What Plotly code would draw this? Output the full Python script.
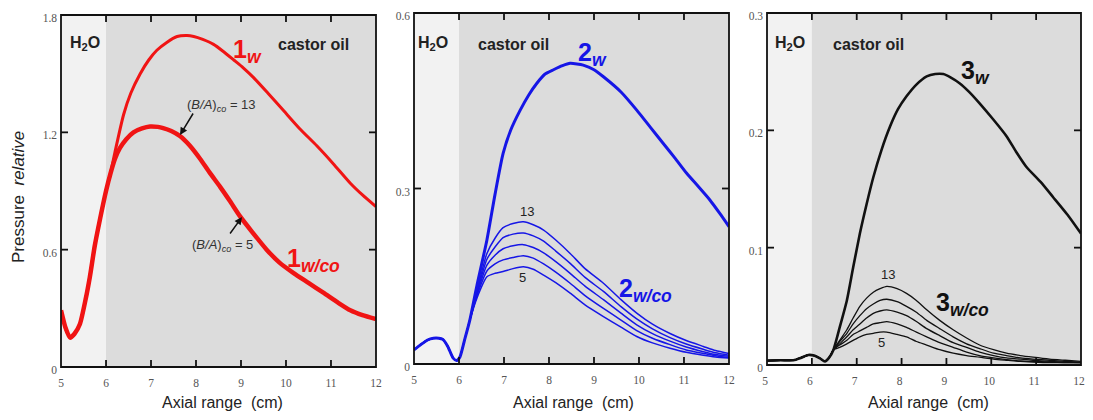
import plotly.graph_objects as go

# ---------------- data ----------------
# Panel 1 (fundamental, red)
x1_w = [5.0, 5.1, 5.2, 5.3, 5.42, 5.55, 5.64, 5.75, 5.87, 6.0, 6.1, 6.2, 6.39, 6.55, 6.76, 6.95,
        7.13, 7.35, 7.58, 7.8, 7.95, 8.15, 8.39, 8.6, 8.84, 9.05, 9.28, 9.6, 9.95, 10.3, 10.69,
        11.05, 11.43, 11.7, 12.0]
y1_w = [0.29, 0.2, 0.15, 0.17, 0.22, 0.35, 0.46, 0.62, 0.76, 0.9, 0.99, 1.1, 1.29, 1.4, 1.5, 1.57,
        1.62, 1.66, 1.69, 1.695, 1.69, 1.675, 1.65, 1.615, 1.57, 1.53, 1.48, 1.4, 1.31, 1.22, 1.13,
        1.04, 0.94, 0.88, 0.82]
x1_co = [5.0, 5.1, 5.2, 5.3, 5.42, 5.55, 5.64, 5.75, 5.87, 6.0, 6.1, 6.2, 6.31, 6.45, 6.61, 6.8,
         6.98, 7.15, 7.27, 7.45, 7.65, 7.85, 8.09, 8.3, 8.54, 8.75, 8.98, 9.25, 9.57, 9.85, 10.17,
         10.5, 10.83, 11.15, 11.43, 11.7, 12.0]
y1_co = [0.29, 0.2, 0.15, 0.17, 0.22, 0.35, 0.46, 0.62, 0.76, 0.9, 0.99, 1.065, 1.12, 1.165, 1.2, 1.22,
         1.23, 1.228, 1.222, 1.207, 1.18, 1.135, 1.065, 0.995, 0.92, 0.85, 0.77, 0.69, 0.6, 0.535, 0.48,
         0.43, 0.38, 0.33, 0.29, 0.265, 0.245]

# Panel 2 (second harmonic, blue)
x2_w = [5.0, 5.15, 5.3, 5.43, 5.55, 5.64, 5.75, 5.87, 5.95, 6.02, 6.12, 6.24, 6.4, 6.62, 6.8, 6.98,
        7.15, 7.36, 7.55, 7.73, 7.9, 8.1, 8.3, 8.47, 8.62, 8.76, 9.0, 9.21, 9.6, 9.95, 10.25,
        10.54, 10.8, 11.06, 11.3, 11.58, 11.8, 12.0]
y2_w = [0.024, 0.033, 0.041, 0.044, 0.044, 0.042, 0.03, 0.01, 0.006, 0.012, 0.04, 0.075, 0.135, 0.212,
        0.29, 0.36, 0.4, 0.434, 0.46, 0.48, 0.495, 0.503, 0.51, 0.514, 0.513, 0.511, 0.503, 0.491,
        0.465, 0.434, 0.405, 0.377, 0.352, 0.326, 0.305, 0.28, 0.257, 0.235]
x2_co = [5.0, 5.15, 5.3, 5.43, 5.55, 5.64, 5.75, 5.87, 5.95, 6.02, 6.12, 6.24, 6.4, 6.62, 6.8, 6.98,
         7.2, 7.43, 7.65, 7.88, 8.15, 8.47, 8.8, 9.21, 9.6, 9.95, 10.3, 10.69, 11.05, 11.43, 11.7, 12.0]
co_start2 = [0.024, 0.033, 0.041, 0.044, 0.044, 0.042, 0.03, 0.01, 0.006, 0.012, 0.04, 0.075]
y2_co13 = co_start2 + [0.125, 0.189, 0.215, 0.233, 0.24, 0.243, 0.238, 0.229, 0.212, 0.189, 0.163,
                       0.138, 0.11, 0.087, 0.068, 0.052, 0.04, 0.03, 0.023, 0.018]
y2_co11 = co_start2 + [0.122, 0.179, 0.2, 0.216, 0.222, 0.224, 0.219, 0.21, 0.193, 0.172, 0.148,
                       0.124, 0.098, 0.077, 0.06, 0.045, 0.034, 0.025, 0.019, 0.015]
y2_co9 = co_start2 + [0.12, 0.169, 0.186, 0.197, 0.202, 0.204, 0.199, 0.19, 0.175, 0.155, 0.133,
                      0.11, 0.087, 0.067, 0.052, 0.039, 0.029, 0.021, 0.016, 0.013]
y2_co7 = co_start2 + [0.117, 0.159, 0.171, 0.178, 0.182, 0.185, 0.181, 0.171, 0.157, 0.138, 0.117,
                      0.095, 0.075, 0.057, 0.044, 0.033, 0.024, 0.018, 0.014, 0.011]
y2_co5 = co_start2 + [0.113, 0.149, 0.155, 0.158, 0.163, 0.166, 0.162, 0.152, 0.139, 0.121, 0.101,
                      0.081, 0.063, 0.047, 0.036, 0.027, 0.02, 0.015, 0.012, 0.01]

# Panel 3 (third harmonic, black)
x3_w = [5.0, 5.3, 5.59, 5.75, 5.92, 6.05, 6.18, 6.29, 6.38, 6.48, 6.62, 6.78, 6.92, 7.07, 7.22, 7.37,
        7.55, 7.74, 7.92, 8.11, 8.33, 8.56, 8.75, 8.93, 9.1, 9.3, 9.5, 9.74, 10.05, 10.34, 10.55,
        10.78, 11.1, 11.38, 11.7, 12.0]
y3_w = [0.0037, 0.004, 0.004, 0.006, 0.0085, 0.008, 0.0057, 0.003, 0.006, 0.0128, 0.032, 0.055, 0.083,
        0.112, 0.137, 0.16, 0.183, 0.203, 0.218, 0.229, 0.239, 0.246, 0.248, 0.248, 0.245, 0.24,
        0.233, 0.223, 0.209, 0.195, 0.182, 0.169, 0.156, 0.143, 0.128, 0.112]
x3_co = [5.0, 5.3, 5.59, 5.75, 5.92, 6.05, 6.18, 6.29, 6.38, 6.48, 6.62, 6.78, 6.92, 7.07, 7.22, 7.37,
         7.52, 7.67, 7.9, 8.11, 8.33, 8.56, 8.85, 9.15, 9.45, 9.74, 10.05, 10.34, 10.65, 10.93,
         11.3, 11.65, 12.0]
co_start3 = [0.0037, 0.004, 0.004, 0.006, 0.0085, 0.008, 0.0057, 0.003, 0.006, 0.0128]
y3_co13 = co_start3 + [0.021, 0.03, 0.04, 0.05, 0.057, 0.062, 0.065, 0.067, 0.065, 0.061, 0.055, 0.047,
                       0.038, 0.03, 0.023, 0.017, 0.013, 0.01, 0.008, 0.0066, 0.005, 0.004, 0.003]
y3_co11 = co_start3 + [0.02, 0.027, 0.035, 0.042, 0.048, 0.052, 0.055, 0.056, 0.054, 0.05, 0.045, 0.038,
                       0.031, 0.024, 0.018, 0.014, 0.01, 0.008, 0.006, 0.005, 0.004, 0.003, 0.0025]
y3_co9 = co_start3 + [0.018, 0.024, 0.03, 0.035, 0.04, 0.044, 0.046, 0.047, 0.045, 0.042, 0.037, 0.031,
                      0.025, 0.019, 0.015, 0.011, 0.008, 0.006, 0.005, 0.004, 0.003, 0.0025, 0.002]
y3_co7 = co_start3 + [0.017, 0.021, 0.026, 0.029, 0.032, 0.035, 0.036, 0.037, 0.035, 0.032, 0.028, 0.024,
                      0.019, 0.015, 0.011, 0.008, 0.006, 0.0045, 0.0035, 0.003, 0.0025, 0.002, 0.002]
y3_co5 = co_start3 + [0.015, 0.018, 0.021, 0.024, 0.026, 0.027, 0.028, 0.028, 0.026, 0.024, 0.02, 0.017,
                      0.013, 0.01, 0.008, 0.0066, 0.005, 0.004, 0.003, 0.0025, 0.002, 0.002, 0.002]

x_ticks = [5, 6, 7, 8, 9, 10, 11, 12]
y1_ticks = [0, 0.6, 1.2, 1.8]
y1_ticklabels = ["0", "0.6", "1.2", "1.8"]
y2_ticks = [0, 0.3, 0.6]
y2_ticklabels = ["0", "0.3", "0.6"]
y3_ticks = [0, 0.1, 0.2, 0.3]
y3_ticklabels = ["0", "0.1", "0.2", "0.3"]

# ---------------- figure ----------------
# page body has an 8px margin, so the figure is 16px smaller than the window
OFF = 8
W, H = 1093 - 2 * OFF, 420 - 2 * OFF
RED = "#f01414"
BLUE = "#1616e6"
BLACK = "#111111"


def px(x):
    return (x - OFF) / W


def py(y):
    return 1 - (y - OFF) / H


fig = go.Figure()


def add(x, y, color, width, n):
    fig.add_trace(go.Scatter(x=x, y=y, mode="lines",
                             line=dict(color=color, width=width, shape="spline", smoothing=0.6),
                             xaxis="x" + n, yaxis="y" + n, showlegend=False, hoverinfo="skip"))


add(x1_co, y1_co, RED, 4.5, "")
add(x1_w, y1_w, RED, 3, "")
for yy in [y2_co5, y2_co7, y2_co9, y2_co11, y2_co13]:
    add(x2_co, yy, BLUE, 1.5, "2")
add(x2_w, y2_w, BLUE, 3, "2")
for yy in [y3_co5, y3_co7, y3_co9, y3_co11, y3_co13]:
    add(x3_co, yy, BLACK, 1.3, "3")
add(x3_w, y3_w, BLACK, 2.6, "3")

tickfont = dict(family="Liberation Serif", size=11.5, color="#555555")
EPS = 1e-4


def xaxis(dom, anchor, shift=0):
    return dict(domain=dom, anchor=anchor, range=[5 - 7 * EPS, 12 + 7 * EPS], tickmode="array",
                tickvals=x_ticks, ticktext=[str(t) for t in x_ticks], ticks="", showline=False,
                showgrid=False, zeroline=False, tickfont=tickfont, ticklabelstandoff=7,
                ticklabelshift=shift, ticklabeloverflow="allow", automargin=False,
                fixedrange=True)


def yaxis(dom, anchor, top, tv, tt):
    return dict(domain=dom, anchor=anchor, range=[-top * EPS, top * (1 + EPS)], tickmode="array",
                tickvals=tv, ticktext=tt, ticks="", showline=False, showgrid=False,
                zeroline=False, tickfont=tickfont, ticklabelstandoff=3, ticklabelshift=3,
                ticklabeloverflow="allow", automargin=False, fixedrange=True)


# panel rectangles in window pixels (left, top, right, bottom)
panels = [(61, 15, 376, 367), (414, 13, 729, 364), (767, 13, 1081, 365)]

fig.update_layout(
    template="none",
    width=W, height=H, margin=dict(l=0, r=0, t=0, b=0, pad=0),
    paper_bgcolor="white", plot_bgcolor="#dcdcdc",
    font=dict(family="Liberation Sans", color="#222222"),
    xaxis=xaxis([px(61), px(376)], "y"),
    yaxis=yaxis([py(367), py(15)], "x", 1.8, y1_ticks, y1_ticklabels),
    xaxis2=xaxis([px(414), px(729)], "y2"),
    yaxis2=yaxis([py(364), py(13)], "x2", 0.6, y2_ticks, y2_ticklabels),
    xaxis3=xaxis([px(767), px(1081)], "y3", shift=-2),
    yaxis3=yaxis([py(365), py(13)], "x3", 0.3, y3_ticks, y3_ticklabels),
)

TL = 7  # tick length, px
FRAME = dict(color="#111111", width=1.8)
y_tick_sets = [y1_ticks, y2_ticks, y3_ticks]
for n, (l, t, r, b), yt in zip(["", "2", "3"], panels, y_tick_sets):
    xr, yr = "x" + n, "y" + n
    pw, ph = r - l, b - t
    # light H2O region
    fig.add_shape(type="rect", xref=xr, yref=yr + " domain", x0=5, x1=6, y0=0, y1=1,
                  fillcolor="#f2f2f2", line_width=0, layer="below")
    # frame
    fig.add_shape(type="rect", xref=xr + " domain", yref=yr + " domain", x0=0, x1=1, y0=0, y1=1,
                  fillcolor="rgba(0,0,0,0)", line=FRAME, layer="above")
    # inside ticks, bottom and top
    for v in x_ticks[1:-1]:
        for y0, y1 in [(0, TL / ph), (1 - TL / ph, 1)]:
            fig.add_shape(type="line", xref=xr, yref=yr + " domain", x0=v, x1=v, y0=y0, y1=y1,
                          line=FRAME, layer="above")
    # inside ticks, left and right
    for v in yt[1:-1]:
        for x0, x1 in [(0, TL / pw), (1 - TL / pw, 1)]:
            fig.add_shape(type="line", xref=xr + " domain", yref=yr, x0=x0, x1=x1, y0=v, y1=v,
                          line=FRAME, layer="above")

ann = []


def text(x, y, t, size, color="#222222", family="Liberation Sans", xanchor="center", angle=0):
    ann.append(dict(x=px(x), y=py(y), xref="paper", yref="paper", text=t, showarrow=False,
                    font=dict(size=size, color=color, family=family), xanchor=xanchor,
                    yanchor="middle", textangle=angle))


def arrow(hx, hy, tx, ty):
    ann.append(dict(x=px(hx), y=py(hy), xref="paper", yref="paper", text="", showarrow=True,
                    ax=tx - hx, ay=ty - hy, arrowhead=2, arrowsize=1, arrowwidth=1.5,
                    arrowcolor="#111111"))


# panel labels
for hx, cx in [(85, 313), (433, 513), (790, 868)]:
    text(hx, 44, "<b>H<sub>2</sub>O</b>", 16)
    text(cx, 45, "<b>castor oil</b>", 16)

text(247, 51, "<b>1<sub><i>w</i></sub></b>", 25, RED)
text(313, 260, "<b>1<sub><i>w/co</i></sub></b>", 25, RED)
text(221, 105, "(<i>B/A</i>)<sub><i>co</i></sub> = 13", 13, "#333333")
arrow(180, 135, 194, 112)
text(222, 245, "(<i>B/A</i>)<sub><i>co</i></sub> = 5", 13, "#333333")
arrow(242, 217, 229, 235)

text(592, 54, "<b>2<sub><i>w</i></sub></b>", 25, BLUE)
text(645, 290, "<b>2<sub><i>w/co</i></sub></b>", 25, BLUE)
text(527, 211, "13", 13)
text(522, 277, "5", 13)

text(975, 72, "<b>3<sub><i>w</i></sub></b>", 25, BLACK)
text(962, 304, "<b>3<sub><i>w/co</i></sub></b>", 25, BLACK)
text(888, 274, "13", 13)
text(881, 342, "5", 13)

# axis titles
for cx in [222, 573, 928]:
    text(cx, 402, "Axial range\u00a0 (cm)", 16)
text(18, 197, "Pressure\u00a0 <i>relative</i>", 17, angle=-90)

fig.update_layout(annotations=ann)
fig.write_html("out.html")
